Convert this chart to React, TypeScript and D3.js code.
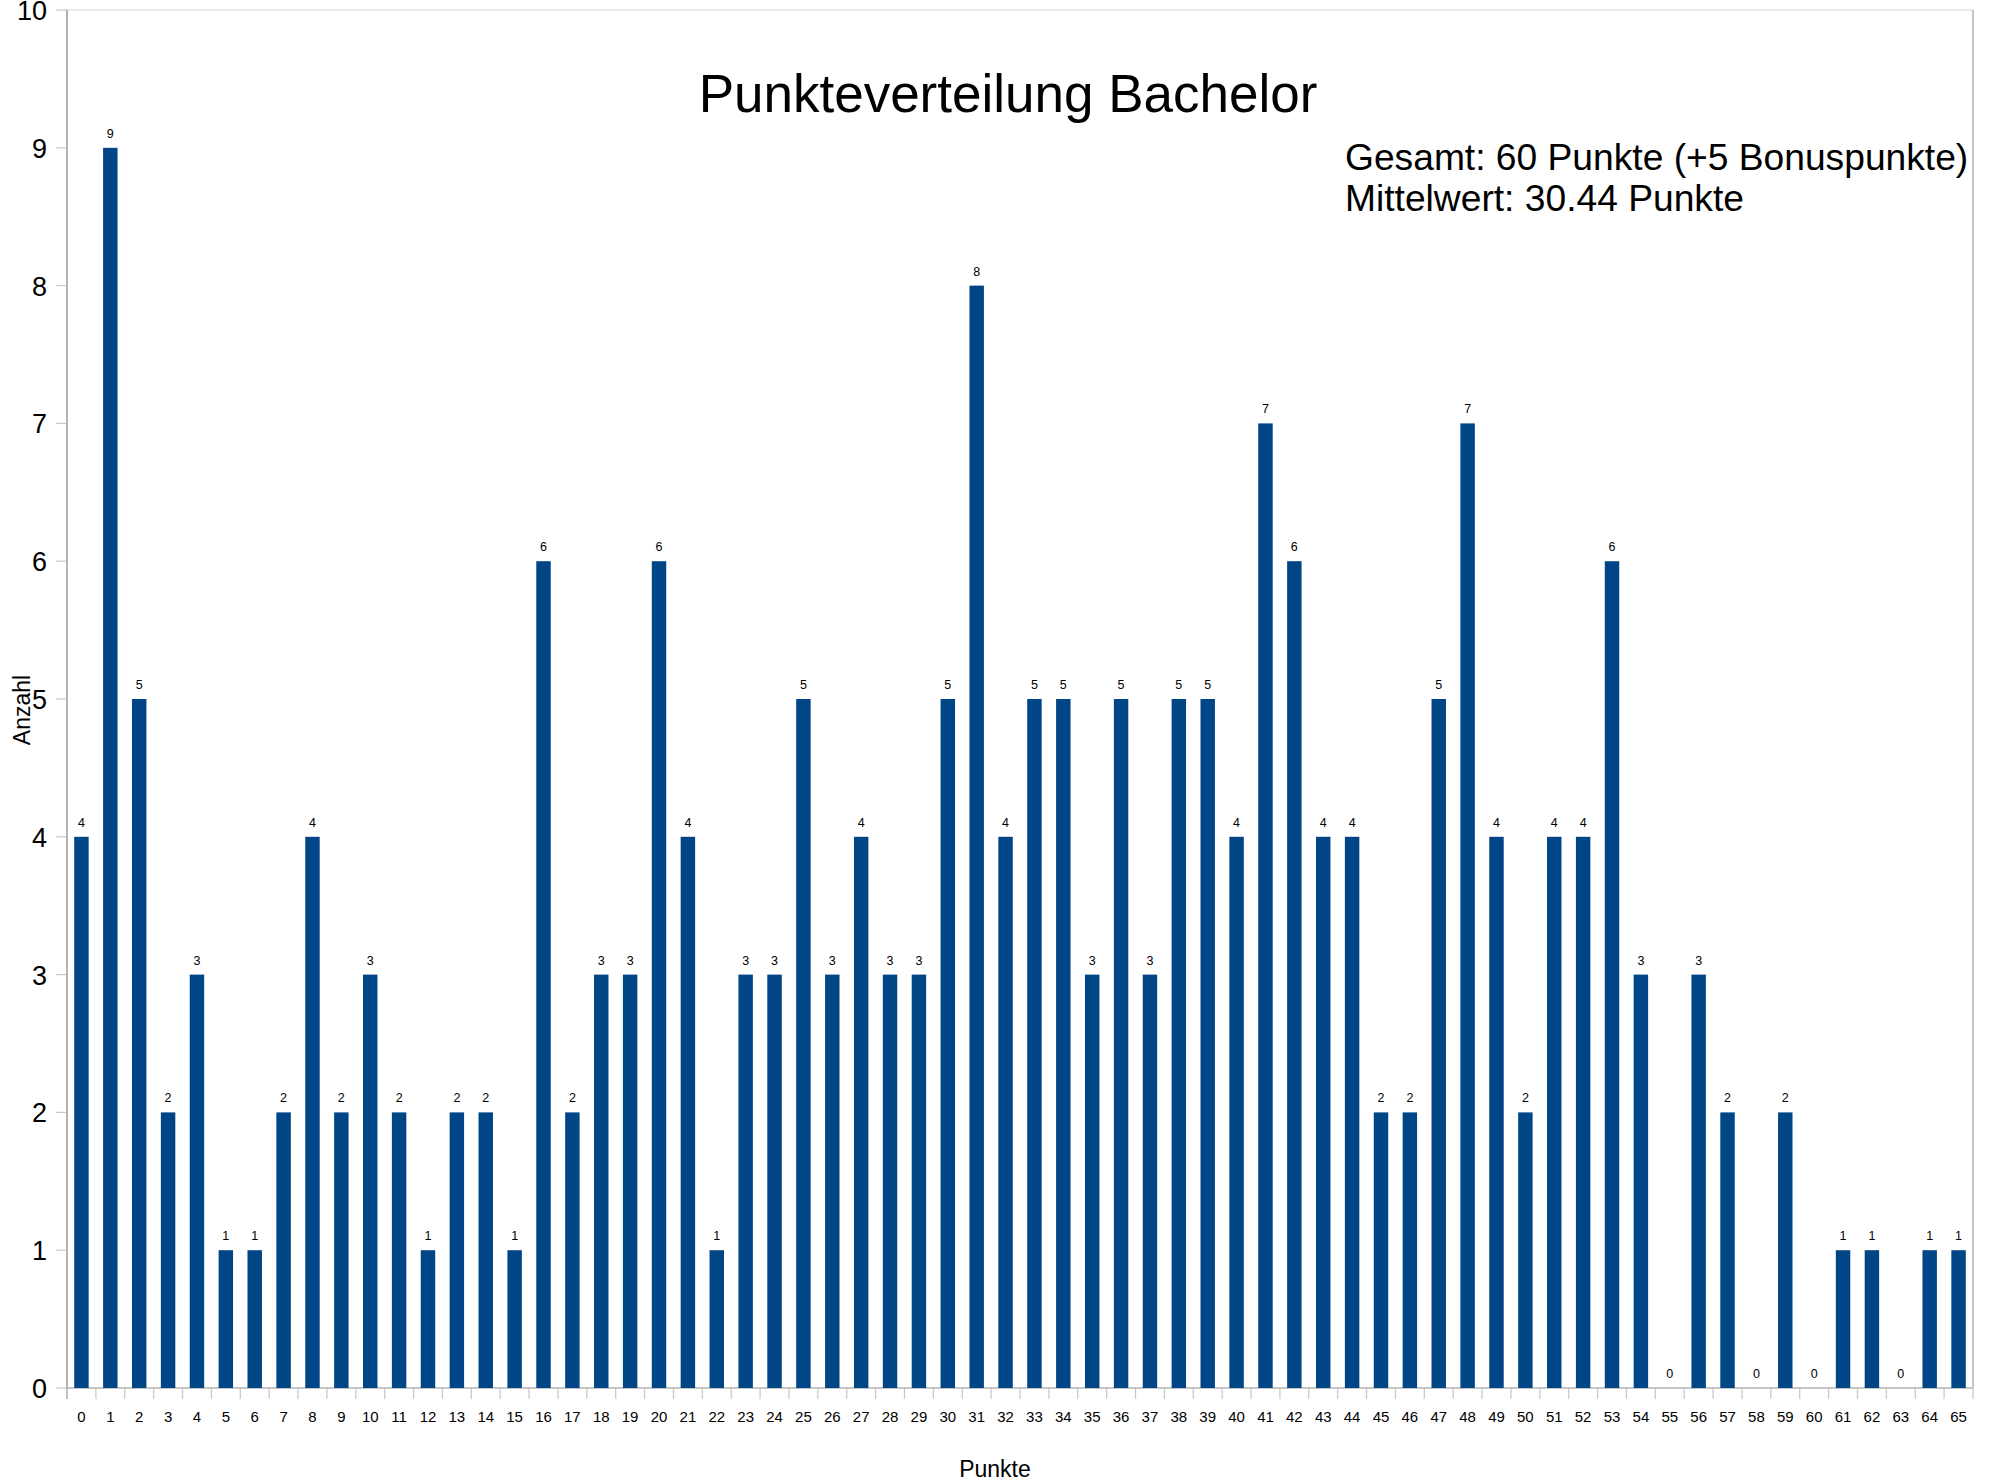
import React from 'react';
import * as d3 from 'd3';

// Punkte 0..65 und Anzahl
const points = d3.range(0, 66).map(String);
const counts = [
  4, 9, 5, 2, 3, 1, 1, 2, 4, 2, 3, 2, 1, 2, 2, 1, 6, 2, 3, 3, 6, 4, 1, 3, 3, 5, 3, 4, 3, 3,
  5, 8, 4, 5, 5, 3, 5, 3, 5, 5, 4, 7, 6, 4, 4, 2, 2, 5, 7, 4, 2, 4, 4, 6, 3, 0, 3, 2, 0, 2,
  0, 1, 1, 0, 1, 1,
];
const yTicks = [0, 1, 2, 3, 4, 5, 6, 7, 8, 9, 10];
const title = 'Punkteverteilung Bachelor';
const infoLines = ['Gesamt: 60 Punkte (+5 Bonuspunkte)', 'Mittelwert: 30.44 Punkte'];

const W = 1990;
const H = 1482;
const margin = { top: 10, right: 17, bottom: 94, left: 67 };
const font = '"Liberation Sans", Arial, sans-serif';
const barColor = '#004586';
const axisColor = '#b3b3b3';

export default function App() {
  const x = d3
    .scaleBand<string>()
    .domain(points)
    .range([margin.left, W - margin.right])
    .paddingInner(0.5)
    .paddingOuter(0.25);
  const y = d3.scaleLinear().domain([0, 10]).range([H - margin.bottom, margin.top]);
  const step = x.step();
  const x0 = margin.left;
  const x1 = W - margin.right;
  const y0 = y(0);

  return (
    <div style={{ position: 'absolute', left: 0, top: 0 }}>
      <svg width={W} height={H} style={{ display: 'block', background: '#fff' }} fontFamily={font}>
        {/* Rahmen */}
        <line x1={x0} x2={x1} y1={y(10)} y2={y(10)} stroke="#e3e3e3" strokeWidth={1.5} />
        <line x1={x1} x2={x1} y1={y(10)} y2={y0} stroke={axisColor} strokeWidth={1.5} />

        {/* Y-Achse */}
        {yTicks.map((t) => (
          <g key={'y' + t}>
            <line x1={x0 - 11} x2={x0} y1={y(t)} y2={y(t)} stroke="#c8c8c8" strokeWidth={1.2} />
            <text x={47} y={y(t)} dy="0.37em" textAnchor="end" fontSize={27} fill="#000">
              {t}
            </text>
          </g>
        ))}
        <line x1={x0} x2={x0} y1={y(10)} y2={y0 + 11} stroke={axisColor} strokeWidth={2} />

        {/* X-Achse */}
        {points.map((p, i) => (
          <line
            key={'xt' + p}
            x1={x0 + i * step}
            x2={x0 + i * step}
            y1={y0}
            y2={y0 + 11}
            stroke="#c8c8c8"
            strokeWidth={1.2}
          />
        ))}
        <line x1={x1} x2={x1} y1={y0} y2={y0 + 11} stroke="#c8c8c8" strokeWidth={1.2} />
        <line x1={x0} x2={x1} y1={y0} y2={y0} stroke={axisColor} strokeWidth={1.5} />
        {points.map((p) => (
          <text
            key={'xl' + p}
            x={(x(p) as number) + x.bandwidth() / 2}
            y={1422}
            textAnchor="middle"
            fontSize={15}
            fill="#000"
          >
            {p}
          </text>
        ))}

        {/* Balken */}
        {counts.map((c, i) => (
          <g key={'b' + i}>
            {c > 0 && (
              <rect
                x={x(points[i])}
                y={y(c)}
                width={x.bandwidth()}
                height={y0 - y(c)}
                fill={barColor}
              />
            )}
            <text
              x={(x(points[i]) as number) + x.bandwidth() / 2}
              y={y(c) - 10}
              textAnchor="middle"
              fontSize={12.5}
              fill="#000"
            >
              {c}
            </text>
          </g>
        ))}

        {/* Titel */}
        <text x={1008} y={112} textAnchor="middle" fontSize={53} fill="#000">
          {title}
        </text>
        {infoLines.map((l, i) => (
          <text key={l} x={1345} y={170 + i * 41} fontSize={37.2} fill="#000">
            {l}
          </text>
        ))}

        {/* Achsentitel */}
        <text x={995} y={1477} textAnchor="middle" fontSize={23} fill="#000">
          Punkte
        </text>
        <text
          transform={`translate(30,710) rotate(-90)`}
          textAnchor="middle"
          fontSize={23}
          fill="#000"
        >
          Anzahl
        </text>
      </svg>
    </div>
  );
}
